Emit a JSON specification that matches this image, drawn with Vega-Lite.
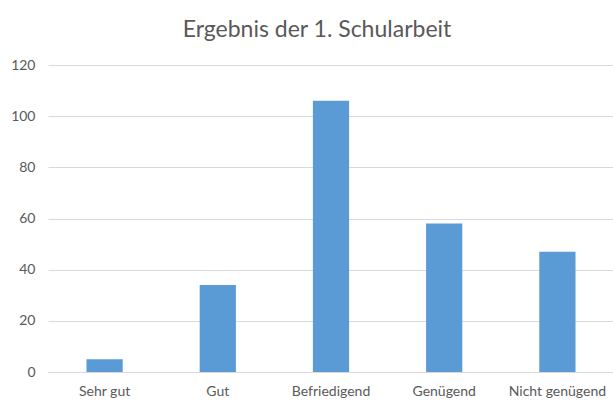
{
  "$schema": "https://vega.github.io/schema/vega-lite/v6.json",
  "autosize": "none",
  "width": 566,
  "height": 307,
  "padding": {"left": 48, "top": 65, "right": 0, "bottom": 30},
  "background": "white",
  "title": {"text": "Ergebnis der 1. Schularbeit", "font": "Lato", "fontSize": 23, "fontWeight": "normal", "color": "#595959", "anchor": "middle", "dx": -14, "offset": 16},
  "data": {"values": [
    {"Note": "Sehr gut", "Anzahl": 5},
    {"Note": "Gut", "Anzahl": 34},
    {"Note": "Befriedigend", "Anzahl": 106},
    {"Note": "Genügend", "Anzahl": 58},
    {"Note": "Nicht genügend", "Anzahl": 47}
  ]},
  "mark": {"type": "bar", "color": "#5b9bd5"},
  "encoding": {
    "x": {"field": "Note", "type": "nominal", "sort": null,
      "scale": {"paddingInner": 0.68, "paddingOuter": 0.34},
      "axis": {"title": null, "labelAngle": 0, "ticks": false, "domainColor": "#d9d9d9", "labelFont": "Lato", "labelFontSize": 14, "labelColor": "#595959", "labelPadding": 12}},
    "y": {"field": "Anzahl", "type": "quantitative",
      "scale": {"domain": [0, 120]},
      "axis": {"title": null, "values": [0, 20, 40, 60, 80, 100, 120], "ticks": false, "domain": false, "gridColor": "#d9d9d9", "labelFont": "Lato", "labelFontSize": 14, "labelColor": "#595959", "labelPadding": 13}}
  },
  "config": {"view": {"stroke": null}}
}
